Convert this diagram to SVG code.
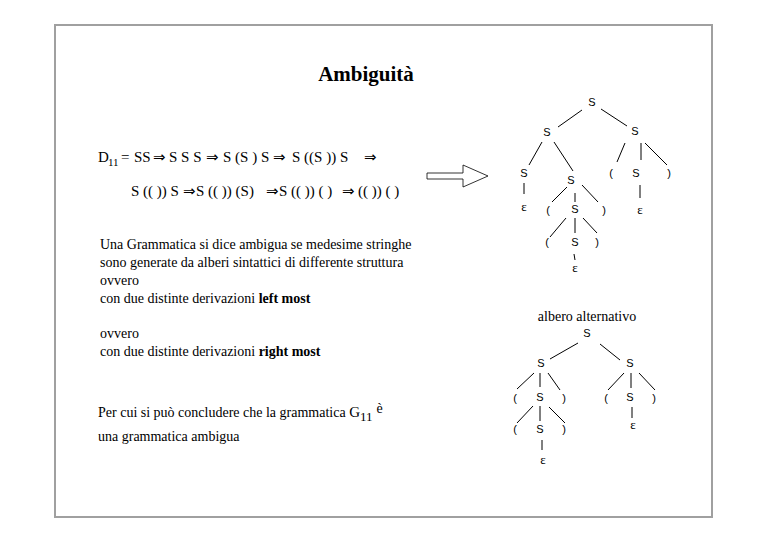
<svg xmlns="http://www.w3.org/2000/svg" width="768" height="543" viewBox="0 0 768 543">
<style>
.t{font-family:"Liberation Serif","DejaVu Serif",serif;font-size:14px;fill:#000}
.d{font-family:"Liberation Serif","DejaVu Serif",serif;font-size:15px;fill:#000}
.a{font-family:"DejaVu Sans",sans-serif;font-size:15px}
.b{font-weight:bold}
.n{font-family:"Liberation Sans",Arial,sans-serif;font-size:11px;fill:#000;text-anchor:middle}
.e{font-family:"Liberation Serif","DejaVu Serif",serif;font-size:13px;fill:#000;text-anchor:middle}
.c line{stroke:#000;stroke-width:1}
</style>
<rect x="55" y="25" width="657" height="492" fill="#fff" stroke="#a0a0a0" stroke-width="2"/>
<text class="t b" x="366" y="81" text-anchor="middle" style="font-size:21px">Ambiguità</text>
<text class="d" y="162"><tspan x="98">D</tspan><tspan x="108" y="166" style="font-size:11px">11</tspan><tspan x="121" y="162">=</tspan><tspan x="134">SS</tspan><tspan class="a" x="153">⇒</tspan><tspan x="169">S S S</tspan><tspan class="a" x="206">⇒</tspan><tspan x="223">S (S ) S</tspan><tspan class="a" x="273">⇒</tspan><tspan x="292">S ((S )) S</tspan><tspan class="a" x="364">⇒</tspan></text>
<text class="d" y="196"><tspan x="131">S (( )) S</tspan><tspan class="a" x="183">⇒</tspan><tspan x="196">S (( )) (S)</tspan><tspan class="a" x="266">⇒</tspan><tspan x="279">S (( )) ( )</tspan><tspan class="a" x="342">⇒</tspan><tspan x="358">(( )) ( )</tspan></text>
<polygon points="427,173 463,173 463,165 488,176 463,187 463,179 427,179" fill="#fff" stroke="#000" stroke-width="0.8"/>
<text class="t" x="100"><tspan x="100" y="249">Una Grammatica si dice ambigua se medesime stringhe</tspan><tspan x="100" y="267">sono generate da alberi sintattici di differente struttura</tspan><tspan x="100" y="285">ovvero</tspan><tspan x="100" y="303">con due distinte derivazioni <tspan class="b">left most</tspan></tspan><tspan x="100" y="338">ovvero</tspan><tspan x="100" y="356">con due distinte derivazioni <tspan class="b">right most</tspan></tspan></text>
<text class="t" y="417"><tspan x="98">Per cui si può concludere che la grammatica </tspan><tspan style="font-size:15px">G</tspan><tspan y="421" style="font-size:13px">11</tspan><tspan dx="4" y="413">è</tspan></text>
<text class="t" x="98" y="441">una grammatica ambigua</text>
<text class="t" x="587" y="321" text-anchor="middle">albero alternativo</text>
<g class="c" id="connectors">
<line x1="582" y1="110" x2="558" y2="127"/>
<line x1="601" y1="109" x2="627" y2="126"/>
<line x1="542" y1="142" x2="529" y2="165"/>
<line x1="554" y1="142" x2="573" y2="171"/>
<line x1="524" y1="183" x2="524" y2="194"/>
<line x1="567" y1="187" x2="552" y2="202"/>
<line x1="575" y1="193" x2="575" y2="202"/>
<line x1="582" y1="185" x2="598" y2="202"/>
<line x1="625" y1="143" x2="617" y2="162"/>
<line x1="641" y1="143" x2="641" y2="160"/>
<line x1="645" y1="143" x2="667" y2="165"/>
<line x1="640" y1="185" x2="640" y2="198"/>
<line x1="566" y1="218" x2="550" y2="237"/>
<line x1="575" y1="218" x2="575" y2="233"/>
<line x1="583" y1="218" x2="597" y2="233"/>
<line x1="574" y1="254" x2="575" y2="260"/>
<line x1="578" y1="343" x2="550" y2="359"/>
<line x1="600" y1="344" x2="620" y2="360"/>
<line x1="534" y1="373" x2="517" y2="389"/>
<line x1="540" y1="373" x2="540" y2="387"/>
<line x1="548" y1="373" x2="560" y2="390"/>
<line x1="624" y1="373" x2="608" y2="390"/>
<line x1="631" y1="373" x2="631" y2="388"/>
<line x1="639" y1="373" x2="655" y2="390"/>
<line x1="533" y1="406" x2="517" y2="423"/>
<line x1="540" y1="406" x2="540" y2="421"/>
<line x1="549" y1="407" x2="565" y2="423"/>
<line x1="542" y1="440" x2="542" y2="450"/>
<line x1="632" y1="407" x2="632" y2="418"/>
</g>
<g id="t1n1"><text class="n" x="592" y="106">S</text></g>
<g id="t1n2"><text class="n" x="547" y="136">S</text></g>
<g id="t1n3"><text class="n" x="635" y="135">S</text></g>
<g id="t1n4"><text class="n" x="524" y="177">S</text></g>
<g id="t1n5"><text class="n" x="571" y="184">S</text></g>
<g id="t1n6"><text class="n" x="611" y="177">(</text></g>
<g id="t1n7"><text class="n" x="636" y="177">S</text></g>
<g id="t1n8"><text class="n" x="669" y="177">)</text></g>
<g id="t1n9"><text class="e" x="524" y="211">ε</text></g>
<g id="t1n10"><text class="n" x="548" y="214">(</text></g>
<g id="t1n11"><text class="n" x="575" y="213">S</text></g>
<g id="t1n12"><text class="n" x="604" y="214">)</text></g>
<g id="t1n13"><text class="e" x="640" y="214">ε</text></g>
<g id="t1n14"><text class="n" x="547" y="246">(</text></g>
<g id="t1n15"><text class="n" x="575" y="246">S</text></g>
<g id="t1n16"><text class="n" x="597" y="246">)</text></g>
<g id="t1n17"><text class="e" x="575" y="272">ε</text></g>
<g id="t2n1"><text class="n" x="587" y="337">S</text></g>
<g id="t2n2"><text class="n" x="541" y="367">S</text></g>
<g id="t2n3"><text class="n" x="630" y="367">S</text></g>
<g id="t2n4"><text class="n" x="515" y="402">(</text></g>
<g id="t2n5"><text class="n" x="540" y="401">S</text></g>
<g id="t2n6"><text class="n" x="564" y="402">)</text></g>
<g id="t2n7"><text class="n" x="606" y="402">(</text></g>
<g id="t2n8"><text class="n" x="630" y="401">S</text></g>
<g id="t2n9"><text class="n" x="654" y="402">)</text></g>
<g id="t2n10"><text class="n" x="515" y="433">(</text></g>
<g id="t2n11"><text class="n" x="540" y="433">S</text></g>
<g id="t2n12"><text class="n" x="564" y="433">)</text></g>
<g id="t2n13"><text class="e" x="633" y="429">ε</text></g>
<g id="t2n14"><text class="e" x="543" y="464">ε</text></g>
</svg>
